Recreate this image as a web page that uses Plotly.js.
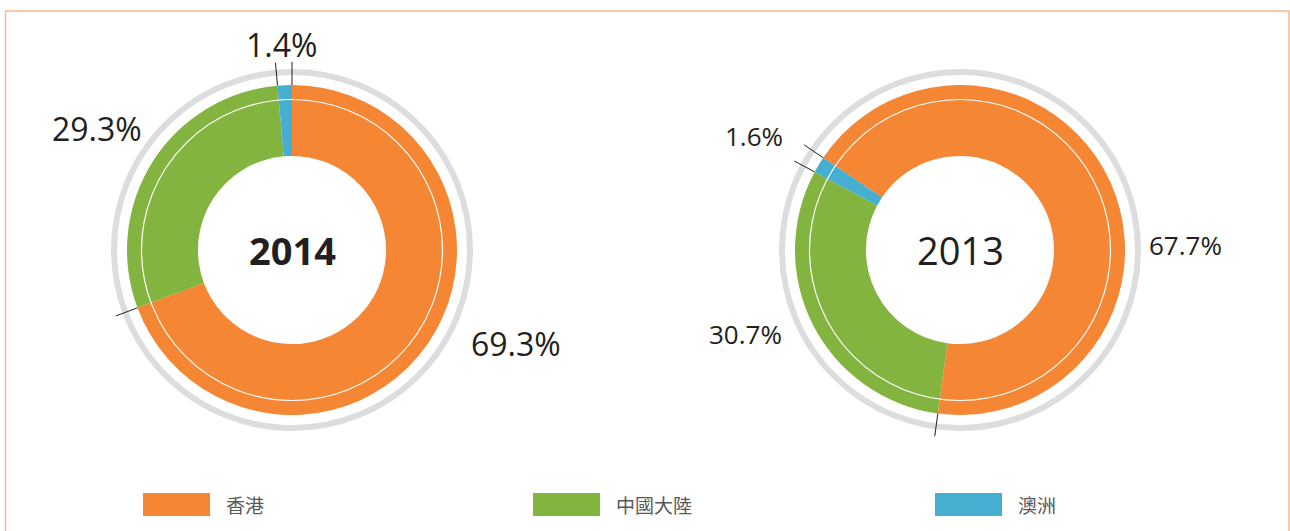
<!DOCTYPE html>
<html>
<head>
<meta charset="utf-8">
<script src="https://cdn.plot.ly/plotly-3.0.1.min.js"></script>
<style>html,body{margin:0;padding:0;background:#fff;}#chart{width:1290px;height:531px;}</style>
</head>
<body>
<div id="chart"></div>
<script>
// ---- data ----
const categories = ['香港', '中國大陸', '澳洲'];
const years = ['2014', '2013'];
const share2014 = [69.3, 29.3, 1.4];
const share2013 = [67.7, 30.7, 1.6];
const colors = ['#F58634', '#84B440', '#46AED1'];

// ---- layout helpers ----
const W = 1290, H = 531;
const R = 165;          // donut outer radius (px)
const charts = [
  {year: years[0], values: share2014, cx: 292, cy: 250, rotation: 0, bold: true, labelSize: 32,
   labelPos: [[224, -93], [-195, 122], [-11, 206]]},
  {year: years[1], values: share2013, cx: 960, cy: 250, rotation: 304, bold: false, labelSize: 26,
   labelPos: [[225, 5], [-215, -84], [-206, 114]]}
];
const legendX = [143, 533, 935];

const traces = [];
const shapes = [];
const annotations = [];
const textColor = '#231F20';

charts.forEach(c => {
  const ax = c.cx / W, ay = 1 - c.cy / H;
  traces.push({
    type: 'pie',
    values: c.values,
    labels: categories,
    marker: {colors: colors, line: {width: 0}},
    hole: 0.57,
    sort: false,
    direction: 'clockwise',
    rotation: c.rotation,
    textinfo: 'none',
    hoverinfo: 'label+percent',
    showlegend: false,
    domain: {x: [(c.cx - R) / W, (c.cx + R) / W], y: [1 - (c.cy + R) / H, 1 - (c.cy - R) / H]}
  });
  // grey outer ring
  shapes.push({type: 'circle', xref: 'paper', yref: 'paper', xsizemode: 'pixel', ysizemode: 'pixel',
    xanchor: ax, yanchor: ay, x0: -178, x1: 178, y0: -178, y1: 178,
    line: {color: '#DCDDDE', width: 6}, layer: 'below'});
  // thin white inner ring
  shapes.push({type: 'circle', xref: 'paper', yref: 'paper', xsizemode: 'pixel', ysizemode: 'pixel',
    xanchor: ax, yanchor: ay, x0: -150.5, x1: 150.5, y0: -150.5, y1: 150.5,
    line: {color: '#FFFFFF', width: 1.2}, layer: 'above'});
  // leader ticks at slice boundaries
  const total = c.values.reduce((a, b) => a + b, 0);
  let cum = 0;
  c.values.forEach(v => {
    const a = (c.rotation + 360 * cum / total) * Math.PI / 180;
    const r0 = R, r1 = 188;
    shapes.push({type: 'line', xref: 'paper', yref: 'paper', xsizemode: 'pixel', ysizemode: 'pixel',
      xanchor: ax, yanchor: ay,
      x0: r0 * Math.sin(a), y0: r0 * Math.cos(a), x1: r1 * Math.sin(a), y1: r1 * Math.cos(a),
      line: {color: textColor, width: 1}, layer: 'above'});
    cum += v;
  });
  // centre year
  annotations.push({x: ax, y: ay, xref: 'paper', yref: 'paper', showarrow: false,
    text: c.year, xanchor: 'center', yanchor: 'middle',
    font: {family: 'Open Sans', size: 38, color: textColor, weight: c.bold ? 700 : 400}});
  // percentage labels
  c.values.forEach((v, i) => {
    annotations.push({x: ax, y: ay, xref: 'paper', yref: 'paper', showarrow: false,
      xshift: c.labelPos[i][0], yshift: c.labelPos[i][1],
      text: v.toFixed(1) + '%', xanchor: 'center', yanchor: 'middle',
      font: {family: 'Open Sans', size: c.labelSize, color: textColor}});
  });
});

// legend
categories.forEach((cat, i) => {
  shapes.push({type: 'rect', xref: 'paper', yref: 'paper',
    x0: legendX[i] / W, x1: (legendX[i] + 67) / W, y0: 1 - 516 / H, y1: 1 - 493 / H,
    fillcolor: colors[i], line: {width: 0}});
  annotations.push({x: (legendX[i] + 81) / W, y: 1 - 504.5 / H, xref: 'paper', yref: 'paper',
    showarrow: false, text: cat, xanchor: 'left', yanchor: 'middle',
    font: {family: 'Noto Sans CJK TC', size: 19, color: '#58595B'}});
});

// frame
shapes.push({type: 'rect', xref: 'paper', yref: 'paper', x0: 5.5 / W, x1: 1289 / W, y0: -0.1, y1: 1 - 11 / H,
  line: {color: '#F9B98A', width: 1.5}, fillcolor: 'rgba(0,0,0,0)', layer: 'below'});

const layout = {
  width: W, height: H,
  margin: {l: 0, r: 0, t: 0, b: 0},
  paper_bgcolor: '#FFFFFF',
  plot_bgcolor: '#FFFFFF',
  showlegend: false,
  shapes: shapes,
  annotations: annotations
};

Plotly.newPlot('chart', traces, layout, {displayModeBar: false, staticPlot: true});
</script>
</body>
</html>
